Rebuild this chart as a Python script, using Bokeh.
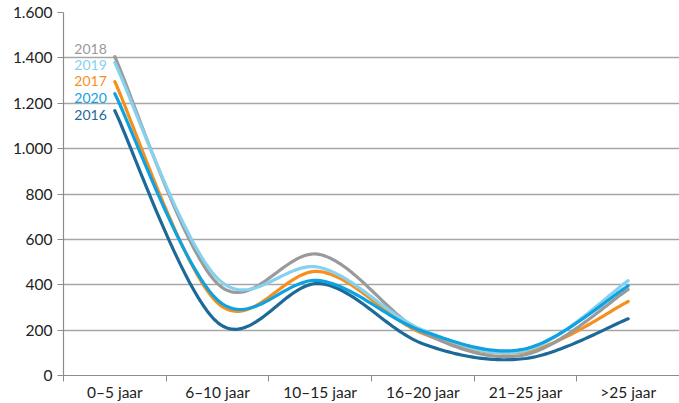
import numpy as np
from bokeh.plotting import figure
from bokeh.models import Range1d, FixedTicker, Label
from bokeh.embed import file_html
from bokeh.resources import INLINE

# ---- data ----
categories = ["0\u20135 jaar", "6\u201310 jaar", "10\u201315 jaar", "16\u201320 jaar", "21\u201325 jaar", ">25 jaar"]
series_names = ["2016", "2017", "2018", "2019", "2020"]
v2016 = [1167, 234, 405, 140, 75, 250]
v2017 = [1295, 320, 458, 185, 105, 326]
v2018 = [1405, 405, 533, 190, 92, 379]
v2019 = [1379, 428, 476, 200, 110, 418]
v2020 = [1242, 333, 418, 195, 118, 395]
y_ticks = [0, 200, 400, 600, 800, 1000, 1200, 1400, 1600]

series = {"2016": v2016, "2017": v2017, "2018": v2018, "2019": v2019, "2020": v2020}
colors = {"2016": "#1d6a98", "2017": "#f5901e", "2018": "#9a9a9a", "2019": "#86d1ef", "2020": "#0ea2e0"}
# legend label order (top to bottom) and their vertical anchor (data units)
legend_order = ["2018", "2019", "2017", "2020", "2016"]
legend_y = [1440, 1368, 1296, 1224, 1150]

FONT = "Lato"


def smooth(xs, ys, n=40):
    xs = np.asarray(xs, float)
    ys = np.asarray(ys, float)
    P = np.column_stack([xs, ys])
    out = []
    m = len(P)
    for i in range(m - 1):
        p0 = P[i - 1] if i > 0 else P[i]
        p1 = P[i]
        p2 = P[i + 1]
        p3 = P[i + 2] if i + 2 < m else P[i + 1]
        c1 = p1 + (p2 - p0) / 6.0
        c2 = p2 - (p3 - p1) / 6.0
        t = np.linspace(0, 1, n, endpoint=(i == m - 2))[:, None]
        seg = ((1 - t) ** 3) * p1 + 3 * ((1 - t) ** 2) * t * c1 + 3 * (1 - t) * t ** 2 * c2 + t ** 3 * p2
        out.append(seg)
    pts = np.vstack(out)
    return pts[:, 0], pts[:, 1]


xc = [i + 0.5 for i in range(len(categories))]

p = figure(width=679, height=403, output_backend="svg", toolbar_location=None,
           x_range=Range1d(0, len(categories)), y_range=Range1d(0, 1600),
           min_border_left=63, min_border_right=0, min_border_top=12, min_border_bottom=28)
p.outline_line_color = None
p.background_fill_color = "white"
p.border_fill_color = "white"

for name in series_names:
    sx, sy = smooth(xc, series[name])
    p.line(x=sx, y=sy, line_color=colors[name], line_width=3.2, line_cap="round", line_join="round")

# axes
p.xaxis.ticker = FixedTicker(ticks=xc, minor_ticks=list(range(len(categories) + 1)))
p.xaxis.major_label_overrides = {x: c for x, c in zip(xc, categories)}
p.xaxis.major_tick_out = 0
p.xaxis.major_tick_in = 0
p.xaxis.minor_tick_out = 6
p.xaxis.minor_tick_in = 0
p.xaxis.minor_tick_line_color = "#8c8c8c"
p.xaxis.axis_line_color = "#8c8c8c"
p.xaxis.axis_line_width = 1.2
p.xaxis.major_label_text_font = FONT
p.xaxis.major_label_text_font_size = "15.5px"
p.xaxis.major_label_text_color = "#222222"
p.xaxis.major_label_standoff = 1

p.yaxis.ticker = FixedTicker(ticks=y_ticks)
p.yaxis.major_label_overrides = {t: f"{t:,}".replace(",", ".") for t in y_ticks}
p.yaxis.major_tick_out = 6
p.yaxis.major_tick_in = 0
p.yaxis.minor_tick_line_color = None
p.yaxis.major_tick_line_color = "#8c8c8c"
p.yaxis.axis_line_color = "#8c8c8c"
p.yaxis.axis_line_width = 1.2
p.yaxis.major_label_text_font = FONT
p.yaxis.major_label_text_font_size = "15.5px"
p.yaxis.major_label_text_color = "#222222"
p.yaxis.major_label_standoff = 5

p.xgrid.grid_line_color = None
p.ygrid.grid_line_color = "#a6a6a6"
p.ygrid.grid_line_width = 1.5

for name, ly in zip(legend_order, legend_y):
    p.add_layout(Label(x=xc[0], y=ly, text=name, x_offset=-8, text_align="right",
                       text_baseline="middle", text_color=colors[name],
                       text_font=FONT, text_font_size="14px"))

open("out.html", "w").write(file_html(p, INLINE))
